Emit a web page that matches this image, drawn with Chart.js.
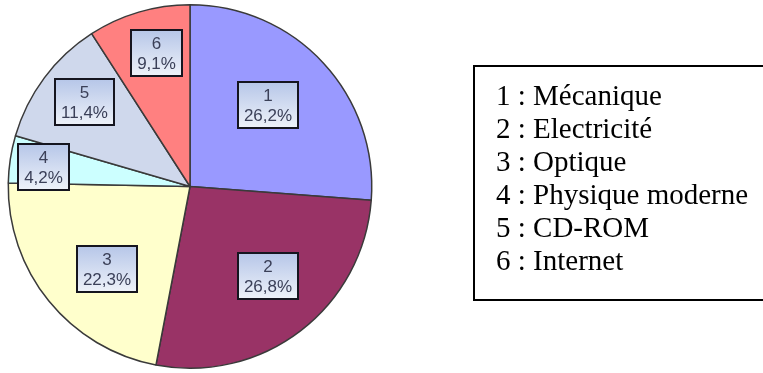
<!DOCTYPE html>
<html>
<head>
<meta charset="utf-8">
<script src="https://cdn.jsdelivr.net/npm/chart.js@4.4.1/dist/chart.umd.min.js"></script>
<style>
  html, body { margin: 0; padding: 0; background: #ffffff; }
  #wrap { width: 763px; height: 373px; position: relative; }
</style>
</head>
<body>
<div id="wrap"><canvas id="chart" width="763" height="373"></canvas></div>
<script>
// Slice numbers, themes and their shares (%)
const sliceNumbers = ['1', '2', '3', '4', '5', '6'];
const sliceNames = ['Mécanique', 'Electricité', 'Optique', 'Physique moderne', 'CD-ROM', 'Internet'];
const shares = [26.2, 26.8, 22.3, 4.2, 11.4, 9.1];
const sliceColors = ['#9999ff', '#993366', '#ffffcc', '#ccffff', '#cfd8ec', '#ff8080'];

// Boxed "number / percent" labels placed inside each slice
const boxLabels = {
  id: 'boxLabels',
  afterDatasetsDraw(chart, args, opts) {
    const ctx = chart.ctx;
    const meta = chart.getDatasetMeta(0);
    meta.data.forEach((arc, i) => {
      const p = arc.getProps(['x', 'y', 'startAngle', 'endAngle', 'outerRadius'], true);
      const a = (p.startAngle + p.endAngle) / 2 + opts.turn[i] * Math.PI / 180;
      const r = p.outerRadius * opts.radius[i];
      const cx = p.x + Math.cos(a) * r;
      const cy = p.y + Math.sin(a) * r;
      const pct = shares[i].toFixed(1).replace('.', ',') + '%';
      ctx.save();
      ctx.font = '17px "Liberation Sans", Arial, sans-serif';
      const tw = Math.max(ctx.measureText(pct).width, ctx.measureText(sliceNumbers[i]).width);
      const w = Math.round(tw + 12), h = 46;
      const x0 = Math.round(cx - w / 2), y0 = Math.round(cy - h / 2);
      const g = ctx.createLinearGradient(0, y0, 0, y0 + h);
      g.addColorStop(0, '#b6c6e8');
      g.addColorStop(1, '#eef2f9');
      ctx.fillStyle = g;
      ctx.fillRect(x0, y0, w, h);
      ctx.lineWidth = 2;
      ctx.strokeStyle = '#15151f';
      ctx.strokeRect(x0, y0, w, h);
      ctx.fillStyle = '#3b4058';
      ctx.textAlign = 'center';
      ctx.textBaseline = 'middle';
      ctx.fillText(sliceNumbers[i], x0 + w / 2, y0 + 14);
      ctx.fillText(pct, x0 + w / 2, y0 + 34);
      ctx.restore();
    });
  }
};

// Framed legend listing "n : theme"
const boxedLegend = {
  id: 'boxedLegend',
  afterDraw(chart, args, opts) {
    const ctx = chart.ctx;
    ctx.save();
    ctx.strokeStyle = '#000000';
    ctx.lineWidth = 2;
    ctx.strokeRect(opts.left, opts.top, opts.width, opts.height);
    ctx.fillStyle = '#000000';
    ctx.font = opts.font;
    ctx.textBaseline = 'middle';
    ctx.textAlign = 'left';
    sliceNames.forEach((name, i) => {
      ctx.fillText(sliceNumbers[i] + ' : ' + name, opts.textX, opts.firstLine + i * opts.lineStep);
    });
    ctx.restore();
  }
};

new Chart(document.getElementById('chart'), {
  type: 'pie',
  data: {
    labels: sliceNames,
    datasets: [{
      data: shares,
      backgroundColor: sliceColors,
      borderColor: '#3a3a3a',
      borderWidth: 1.5
    }]
  },
  options: {
    responsive: false,
    animation: false,
    layout: { padding: { left: 7, top: 4, right: 390, bottom: 4 } },
    plugins: {
      legend: { display: false },
      tooltip: { enabled: false },
      boxLabels: {
        radius: [0.62, 0.653, 0.643, 0.813, 0.743, 0.76],
        turn: [-3.3, -3.5, -5.6, -1.0, 1.9, 2.2]
      },
      boxedLegend: {
        left: 474, top: 66, width: 300, height: 234,
        textX: 496, firstLine: 97, lineStep: 33,
        font: '29px "Liberation Serif", "Times New Roman", serif'
      }
    }
  },
  plugins: [boxLabels, boxedLegend]
});
</script>
</body>
</html>
